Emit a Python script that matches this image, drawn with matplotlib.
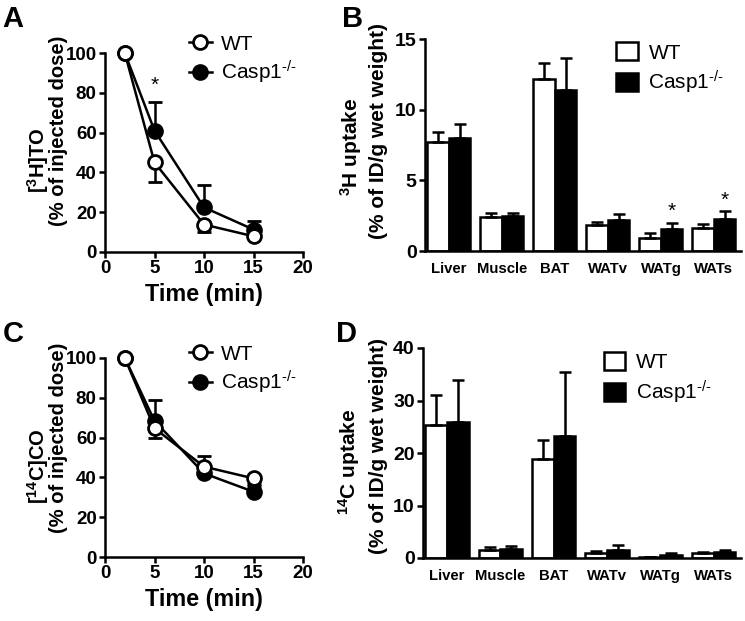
import matplotlib
matplotlib.use('Agg')
import matplotlib.pyplot as plt
import numpy as np
from matplotlib.lines import Line2D
from matplotlib.patches import Patch

plt.rcParams['font.family'] = ['Liberation Sans', 'DejaVu Sans']
plt.rcParams['mathtext.fontset'] = 'custom'
plt.rcParams['mathtext.rm'] = 'Liberation Sans'
plt.rcParams['mathtext.bf'] = 'Liberation Sans:bold'
plt.rcParams['mathtext.it'] = 'Liberation Sans'

# time courses (panels A, C)
time = [2, 5, 10, 15]
h3_wt = [100, 45.0, 13.8, 7.9]
h3_wt_err = [0, 9.7, 3.8, 0]
h3_ko = [100, 61.0, 22.4, 11.3]
h3_ko_err = [0, 14.3, 11.2, 4.3]

c14_wt = [100, 64.7, 45.4, 39.5]
c14_wt_err = [0, 5.0, 0, 3.0]
c14_ko = [100, 68.4, 42.0, 32.8]
c14_ko_err = [0, 10.6, 8.9, 3.0]

# tissue uptake (panels B, D)
tissues = ['Liver', 'Muscle', 'BAT', 'WATv', 'WATg', 'WATs']
h3u_wt = [7.74, 2.41, 12.18, 1.82, 0.95, 1.66]
h3u_wt_err = [0.71, 0.29, 1.09, 0.24, 0.30, 0.26]
h3u_ko = [8.02, 2.48, 11.4, 2.2, 1.58, 2.29]
h3u_ko_err = [0.98, 0.22, 2.25, 0.45, 0.43, 0.55]

c14u_wt = [25.4, 1.6, 18.9, 0.9, 0.1, 0.9]
c14u_wt_err = [5.7, 0.5, 3.6, 0.4, 0.05, 0.3]
c14u_ko = [26.0, 1.7, 23.2, 1.5, 0.6, 1.1]
c14u_ko_err = [8.0, 0.5, 12.2, 1.0, 0.3, 0.5]

W, H = 745, 621
fig = plt.figure(figsize=(W / 100, H / 100), dpi=100)


def px_axes(l, r, t, b):
    return fig.add_axes([l / W, 1 - b / H, (r - l) / W, (b - t) / H])


def vtext(x, y, s, size):
    # rotated axis title placed by pixel centre
    fig.text(x / W, 1 - y / H, s, rotation=90, ha='center', va='center',
             rotation_mode='anchor', fontsize=size, fontweight='bold')


def style(ax):
    for s in ['top', 'right']:
        ax.spines[s].set_visible(False)
    for s in ['left', 'bottom']:
        ax.spines[s].set_linewidth(1.8)
    ax.tick_params(direction='out', length=4, width=1.8, pad=2)


lw = 1.8
ko_label = 'Casp1$^{\\text{-/-}}$'


def line_panel(ax, wt, wt_err, ko, ko_err, leg_y, star=None):
    ax.errorbar(time, wt, yerr=[wt_err, np.zeros(len(wt))], color='k', lw=lw,
                marker='o', ms=10, mfc='white', mec='k', mew=2,
                capsize=5, capthick=lw, elinewidth=lw, zorder=3, clip_on=False)
    ax.errorbar(time, ko, yerr=[np.zeros(len(ko)), ko_err], color='k', lw=lw,
                marker='o', ms=10, mfc='k', mec='k', mew=2,
                capsize=5, capthick=lw, elinewidth=lw, zorder=2, clip_on=False)
    ax.set_xlim(0, 20)
    ax.set_ylim(0, 100)
    ax.set_xticks([0, 5, 10, 15, 20])
    ax.set_yticks([0, 20, 40, 60, 80, 100])
    style(ax)
    ax.tick_params(labelsize=13.5)
    for t in ax.get_xticklabels() + ax.get_yticklabels():
        t.set_fontweight('bold')
    ax.set_xlabel('Time (min)', fontsize=16.8, fontweight='bold', labelpad=4)
    if star is not None:
        ax.text(star[0], star[1], '*', ha='center', va='center', fontsize=15)
    handles = [Line2D([], [], color='k', lw=lw, marker='o', ms=10, mfc='white', mew=2),
               Line2D([], [], color='k', lw=lw, marker='o', ms=10, mfc='k', mew=2)]
    ax.legend(handles, ['WT', ko_label], loc='upper left', bbox_to_anchor=(0.37, leg_y),
              frameon=False, fontsize=15, handlelength=1.1, handletextpad=0.45,
              labelspacing=0.25, borderpad=0)


def bar_panel(ax, wt, wt_err, ko, ko_err, ylim, yticks, leg_x, leg_y, stars=()):
    x = np.arange(len(tissues))
    bw = 0.405
    ax.bar(x - bw / 2, wt, bw, color='white', edgecolor='k', linewidth=1.8,
           yerr=[np.zeros(len(wt)), wt_err], capsize=4.5,
           error_kw=dict(elinewidth=1.8, capthick=1.8))
    ax.bar(x + bw / 2, ko, bw, color='k', edgecolor='k', linewidth=1.8,
           yerr=[np.zeros(len(ko)), ko_err], capsize=4.5,
           error_kw=dict(elinewidth=1.8, capthick=1.8))
    ax.set_xlim(-0.45, 5.51)
    ax.set_ylim(*ylim)
    ax.set_yticks(yticks)
    ax.set_xticks(x)
    style(ax)
    ax.set_xticklabels(tissues, fontsize=10.7, fontweight='bold')
    ax.tick_params(axis='x', length=0, pad=8)
    ax.tick_params(axis='y', labelsize=14)
    for t in ax.get_yticklabels():
        t.set_fontweight('bold')
    for sx, sy in stars:
        ax.text(x[sx] + bw / 2, sy, '*', ha='center', va='center', fontsize=15)
    handles = [Patch(facecolor='white', edgecolor='k', linewidth=1.8),
               Patch(facecolor='k', edgecolor='k', linewidth=1.8)]
    ax.legend(handles, ['WT', ko_label], loc='upper left', bbox_to_anchor=(leg_x, leg_y),
              frameon=False, fontsize=15, handlelength=1.05, handleheight=0.95,
              handletextpad=0.5, labelspacing=0.3, borderpad=0)


axA = px_axes(105, 303, 53, 252)
line_panel(axA, h3_wt, h3_wt_err, h3_ko, h3_ko_err, 1.145, star=(5, 83.6))
vtext(38, 160, '[$\\mathbf{^{3}}$H]TO', 14.5)
vtext(58, 131, '(% of injected dose)', 14.5)

axB = px_axes(425, 741, 39, 251)
bar_panel(axB, h3u_wt, h3u_wt_err, h3u_ko, h3u_ko_err, (0, 15), [0, 5, 10, 15],
          0.572, 1.033, stars=[(4, 2.8), (5, 3.6)])
vtext(351, 147, '$\\mathbf{^{3}}$H uptake', 15)
vtext(378, 131, '(% of ID/g wet weight)', 15)

axC = px_axes(105, 303, 358, 557)
line_panel(axC, c14_wt, c14_wt_err, c14_ko, c14_ko_err, 1.12)
vtext(38, 466, '[$\\mathbf{^{14}}$C]CO', 14.5)
vtext(58, 438, '(% of injected dose)', 14.5)

axD = px_axes(423, 741, 348, 558)
bar_panel(axD, c14u_wt, c14u_wt_err, c14u_ko, c14u_ko_err, (0, 40), [0, 10, 20, 30, 40],
          0.535, 1.03)
vtext(349, 462, '$\\mathbf{^{14}}$C uptake', 15)
vtext(378, 446, '(% of ID/g wet weight)', 15)

for lab, x, y in [('A', 2, 5), ('B', 342, 5), ('C', 3, 320), ('D', 336, 320)]:
    fig.text(x / W, 1 - y / H, lab, fontsize=21, fontweight='bold', ha='left', va='top')

fig.savefig('out.png', dpi=100)
